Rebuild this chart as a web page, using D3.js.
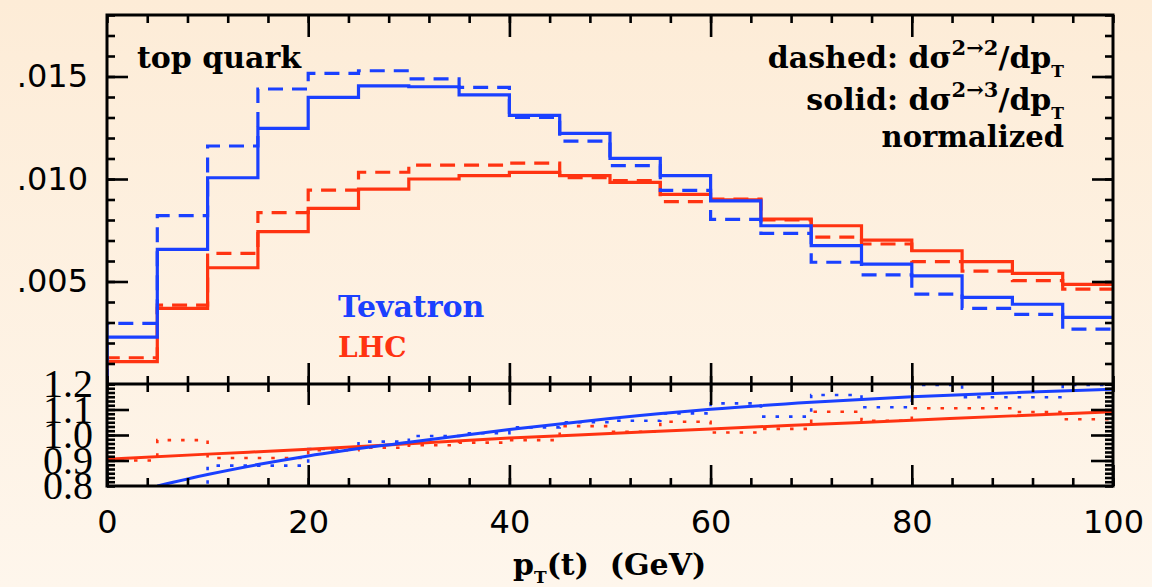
<!DOCTYPE html>
<html>
<head>
<meta charset="utf-8">
<script src="https://cdn.jsdelivr.net/npm/d3@7"></script>
<style>
  html, body { margin: 0; padding: 0; background: #fef2e2; }
  svg { display: block; }
</style>
</head>
<body>
<svg id="chart" width="1152" height="587"></svg>
<script>
// p_T bin edges (GeV)
const ptEdges = [0, 5, 10, 15, 20, 25, 30, 35, 40, 45, 50, 55, 60, 65, 70, 75, 80, 85, 90, 95, 100];

// normalized distributions per bin
const tevatron23 = [0.00229, 0.00657, 0.01006, 0.01247, 0.01398, 0.01454, 0.01450, 0.01410, 0.01310, 0.01223,
                    0.01101, 0.01016, 0.00893, 0.00772, 0.00675, 0.00585, 0.00527, 0.00423, 0.00389, 0.00325];
const tevatron22 = [0.00296, 0.00821, 0.01161, 0.01439, 0.01515, 0.01528, 0.01488, 0.01447, 0.01300, 0.01185,
                    0.01065, 0.00945, 0.00803, 0.00735, 0.00594, 0.00532, 0.00438, 0.00369, 0.00340, 0.00268];
const lhc23      = [0.00109, 0.00369, 0.00567, 0.00743, 0.00857, 0.00951, 0.01000, 0.01016, 0.01032, 0.01016,
                    0.00984, 0.00925, 0.00898, 0.00805, 0.00772, 0.00702, 0.00650, 0.00597, 0.00540, 0.00486];
const lhc22      = [0.00128, 0.00385, 0.00637, 0.00836, 0.00946, 0.01033, 0.01068, 0.01068, 0.01077, 0.01006,
                    0.00992, 0.00890, 0.00902, 0.00800, 0.00716, 0.00683, 0.00597, 0.00551, 0.00504, 0.00463];

// ratio 2->3 / 2->2 per bin
const ratioTevatron = [0.78, 0.79, 0.88, 0.88, 0.945, 0.974, 0.996, 1.007, 1.03, 1.05,
                       1.056, 1.085, 1.124, 1.072, 1.157, 1.109, 1.196, 1.148, 1.148, 1.196];
const ratioLhc      = [0.90, 0.98, 0.91, 0.91, 0.94, 0.95, 0.96, 0.97, 0.98, 1.035,
                       1.013, 1.052, 1.010, 1.024, 1.091, 1.056, 1.105, 1.105, 1.09, 1.062];

// smooth fits to the ratio
const fitPtTevatron = [5, 10, 15, 20, 30, 40, 50, 60, 70, 80, 90, 100];
const fitTevatron   = [0.800, 0.845, 0.884, 0.918, 0.972, 1.022, 1.065, 1.101, 1.128, 1.150, 1.166, 1.179];
const fitPtLhc      = [0, 10, 20, 30, 40, 50, 60, 70, 80, 90, 100];
const fitLhc        = [0.905, 0.925, 0.944, 0.966, 0.988, 1.006, 1.024, 1.041, 1.058, 1.075, 1.091];

// axis ticks and labels
const xMajorTicks = [0, 20, 40, 60, 80, 100];
const xTickLabels = ["0", "20", "40", "60", "80", "100"];
const yTopMajorTicks = [0.005, 0.010, 0.015];
const yTopTickLabels = [".005", ".010", ".015"];
const yBotLabelTicks = [0.8, 0.9, 1.0, 1.1, 1.2];
const yBotTickLabels = ["0.8", "0.9", "1.0", "1.1", "1.2"];

const BLUE = "#1a40ff";
const RED = "#ff3311";

const svg = d3.select("#chart");
const W = 1152, H = 587;
const L = 107, R = 1113, T = 15, MID = 384, B = 486;

// background
const defs = svg.append("defs");
const grad = defs.append("linearGradient").attr("id", "bg").attr("x1", 0).attr("y1", 0).attr("x2", 0).attr("y2", 1);
grad.append("stop").attr("offset", "0%").attr("stop-color", "#fdecd7");
grad.append("stop").attr("offset", "100%").attr("stop-color", "#fef6ec");
svg.append("rect").attr("width", W).attr("height", H).attr("fill", "url(#bg)");

defs.append("clipPath").attr("id", "clipTop").append("rect")
  .attr("x", L).attr("y", T).attr("width", R - L).attr("height", MID - T);
defs.append("clipPath").attr("id", "clipBot").append("rect")
  .attr("x", L).attr("y", MID).attr("width", R - L).attr("height", B - MID);

const x = d3.scaleLinear().domain([0, 100]).range([L, R]);
const yTop = d3.scaleLinear().domain([0, 0.018]).range([MID, T]);
const yBot = d3.scaleLinear().domain([0.8, 1.2]).range([B, MID]);

// step histogram: rises from the axis at the first edge
function stepPoints(values, base) {
  const pts = [[ptEdges[0], base]];
  values.forEach((v, i) => pts.push([ptEdges[i], v]));
  pts.push([ptEdges[ptEdges.length - 1], values[values.length - 1]]);
  return pts;
}

const topLine = d3.line().x(d => x(d[0])).y(d => yTop(d[1])).curve(d3.curveStepAfter);
const botStep = d3.line().x(d => x(d[0])).y(d => yBot(d[1])).curve(d3.curveStepAfter);
const botFit = d3.line().x(d => x(d[0])).y(d => yBot(d[1])).curve(d3.curveMonotoneX);

// upper panel histograms
const gTop = svg.append("g").attr("clip-path", "url(#clipTop)");
const topSeries = [
  { v: lhc22, c: RED, dash: "15,9" },
  { v: lhc23, c: RED, dash: null },
  { v: tevatron22, c: BLUE, dash: "15,9" },
  { v: tevatron23, c: BLUE, dash: null }
];
topSeries.forEach(s => {
  gTop.append("path")
    .attr("d", topLine(stepPoints(s.v, 0)))
    .attr("fill", "none").attr("stroke", s.c).attr("stroke-width", 3.2)
    .attr("stroke-dasharray", s.dash);
});

// lower panel ratios
const gBot = svg.append("g").attr("clip-path", "url(#clipBot)");
[{ v: ratioLhc, c: RED }, { v: ratioTevatron, c: BLUE }].forEach(s => {
  const pts = s.v.map((v, i) => [ptEdges[i], v]);
  pts.push([100, s.v[s.v.length - 1]]);
  gBot.append("path").attr("d", botStep(pts))
    .attr("fill", "none").attr("stroke", s.c).attr("stroke-width", 2.6)
    .attr("stroke-dasharray", "3.5,10");
});
gBot.append("path").attr("d", botFit(fitPtLhc.map((p, i) => [p, fitLhc[i]])))
  .attr("fill", "none").attr("stroke", RED).attr("stroke-width", 3);
gBot.append("path").attr("d", botFit(fitPtTevatron.map((p, i) => [p, fitTevatron[i]])))
  .attr("fill", "none").attr("stroke", BLUE).attr("stroke-width", 3);

// ticks
function tickAxis(gen, scale, at, values, size, labels, padding) {
  const a = gen(scale).tickValues(values).tickSize(size).tickPadding(padding || 0)
    .tickFormat(labels ? ((d, i) => labels[i]) : "");
  const g = svg.append("g").attr("transform", at).call(a);
  g.select(".domain").remove();
  g.selectAll(".tick line").attr("stroke", "#000").attr("stroke-width", 2.6);
  return g;
}
const xMinor = d3.range(0, 101, 4);
const yTopMinor = yTop.ticks(18);
const yBotMinor = d3.range(0, 25).map(i => 0.8 + i * 0.4 / 24);

// upper panel
tickAxis(d3.axisTop, x, `translate(0,${T})`, xMinor, -8);
tickAxis(d3.axisTop, x, `translate(0,${T})`, [20, 40, 60, 80], -22);
tickAxis(d3.axisBottom, x, `translate(0,${MID})`, xMinor, -8);
tickAxis(d3.axisBottom, x, `translate(0,${MID})`, [20, 40, 60, 80], -21);
tickAxis(d3.axisLeft, yTop, `translate(${L},0)`, yTopMinor, -8);
const yl = tickAxis(d3.axisLeft, yTop, `translate(${L},0)`, yTopMajorTicks, -21, yTopTickLabels, 19);
yl.selectAll("text").attr("font-family", "DejaVu Sans").attr("font-size", 32).attr("fill", "#000");
tickAxis(d3.axisRight, yTop, `translate(${R},0)`, yTopMinor, -8);
tickAxis(d3.axisRight, yTop, `translate(${R},0)`, yTopMajorTicks, -21);

// lower panel
tickAxis(d3.axisTop, x, `translate(0,${MID})`, xMinor, -8);
tickAxis(d3.axisTop, x, `translate(0,${MID})`, [20, 40, 60, 80], -21);
tickAxis(d3.axisBottom, x, `translate(0,${B})`, xMinor, -8);
const xl = tickAxis(d3.axisBottom, x, `translate(0,${B})`, xMajorTicks, -21, xTickLabels, 24);
xl.selectAll("text").attr("font-family", "DejaVu Sans").attr("font-size", 32).attr("fill", "#000");
tickAxis(d3.axisLeft, yBot, `translate(${L},0)`, yBotMinor, -8);
tickAxis(d3.axisLeft, yBot, `translate(${L},0)`, [0.9, 1.0, 1.1], -22);
const ybl = tickAxis(d3.axisLeft, yBot, `translate(${L},0)`, yBotLabelTicks, 0, yBotTickLabels, 14);
ybl.selectAll("text").attr("font-family", "Liberation Serif").attr("font-size", 40).attr("fill", "#000");
tickAxis(d3.axisRight, yBot, `translate(${R},0)`, yBotMinor, -8);
tickAxis(d3.axisRight, yBot, `translate(${R},0)`, [0.9, 1.0, 1.1], -22);

// frame
svg.append("rect").attr("x", L).attr("y", T).attr("width", R - L).attr("height", B - T)
  .attr("fill", "none").attr("stroke", "#000").attr("stroke-width", 3);
svg.append("line").attr("x1", L).attr("x2", R).attr("y1", MID).attr("y2", MID)
  .attr("stroke", "#000").attr("stroke-width", 3);

// annotations
const serif = "DejaVu Serif";
function label(xp, yp, anchor) {
  return svg.append("text").attr("x", xp).attr("y", yp).attr("text-anchor", anchor)
    .attr("font-family", serif).attr("font-weight", "bold").attr("font-size", 29).attr("fill", "#000");
}
label(137, 68, "start").attr("font-size", 30).text("top quark");

function sigmaLabel(yp, kind, proc) {
  const t = label(1064, yp, "end").attr("font-size", 30);
  t.append("tspan").text(kind + ": d\u03c3");
  t.append("tspan").attr("font-size", 21).attr("dy", -13).text(proc);
  t.append("tspan").attr("dy", 13).text("/dp");
  t.append("tspan").attr("font-size", 17).attr("dy", 9).text("T");
}
sigmaLabel(68, "dashed", "2\u21922");
sigmaLabel(110, "solid", "2\u21923");
label(1064, 147, "end").text("normalized");

svg.append("text").attr("x", 338).attr("y", 317).attr("font-family", serif).attr("font-weight", "bold")
  .attr("font-size", 30).attr("fill", BLUE).text("Tevatron");
svg.append("text").attr("x", 338).attr("y", 357).attr("font-family", serif).attr("font-weight", "bold")
  .attr("font-size", 28).attr("fill", RED).text("LHC");

const xt = label(513, 575, "start").attr("font-size", 30);
xt.append("tspan").text("p");
xt.append("tspan").attr("font-size", 17).attr("dy", 8).text("T");
xt.append("tspan").attr("dy", -8).text("(t)\u00a0\u00a0(GeV)");
</script>
</body>
</html>
